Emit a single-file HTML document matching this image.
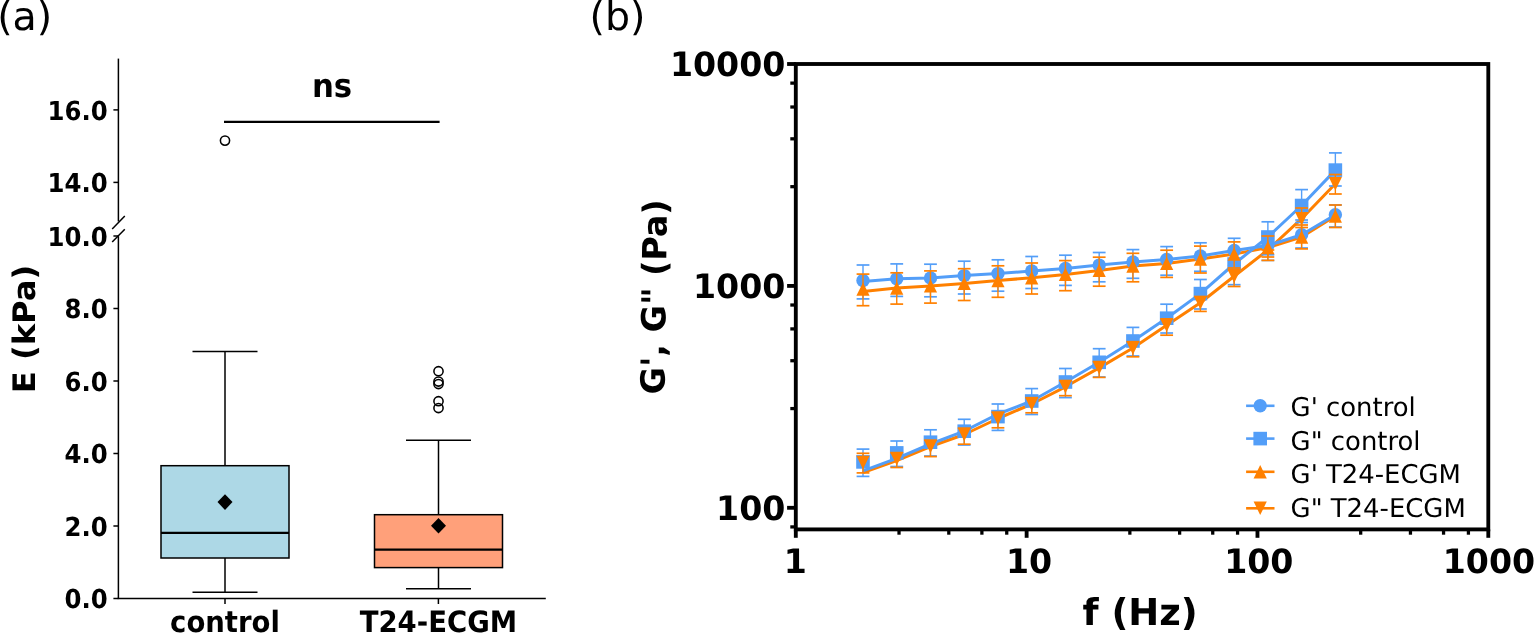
<!DOCTYPE html>
<html><head><meta charset="utf-8"><title>Figure</title>
<style>
html,body{margin:0;padding:0;background:#fff;}
body{width:1534px;height:633px;overflow:hidden;}
svg{display:block;}
.b{font-family:"DejaVu Sans","Liberation Sans",sans-serif;font-weight:bold;fill:#000;text-rendering:geometricPrecision;}
.r{font-family:"DejaVu Sans","Liberation Sans",sans-serif;font-weight:normal;fill:#000;text-rendering:geometricPrecision;}
</style></head><body>
<svg width="1534" height="633" viewBox="0 0 1534 633">
<rect width="1534" height="633" fill="#fff"/>
<line x1="118.4" y1="58.6" x2="118.4" y2="221.5" stroke="#000" stroke-width="1.5"/>
<line x1="118.4" y1="236.2" x2="118.4" y2="598.5" stroke="#000" stroke-width="1.5"/>
<line x1="117.65" y1="598.5" x2="545.8" y2="598.5" stroke="#000" stroke-width="1.5"/>
<line x1="112.2" y1="229" x2="124.8" y2="216" stroke="#000" stroke-width="1.5"/>
<line x1="112.2" y1="242.1" x2="124.8" y2="229.2" stroke="#000" stroke-width="1.5"/>
<line x1="113.4" y1="598.50" x2="118.4" y2="598.50" stroke="#000" stroke-width="1.5"/>
<text transform="translate(107.80,608.30) scale(1.0,1.072)" text-anchor="end" class="b" font-size="24.4">0.0</text>
<line x1="113.4" y1="526.00" x2="118.4" y2="526.00" stroke="#000" stroke-width="1.5"/>
<text transform="translate(107.80,535.80) scale(1.0,1.072)" text-anchor="end" class="b" font-size="24.4">2.0</text>
<line x1="113.4" y1="453.50" x2="118.4" y2="453.50" stroke="#000" stroke-width="1.5"/>
<text transform="translate(107.80,463.30) scale(1.0,1.072)" text-anchor="end" class="b" font-size="24.4">4.0</text>
<line x1="113.4" y1="381.00" x2="118.4" y2="381.00" stroke="#000" stroke-width="1.5"/>
<text transform="translate(107.80,390.80) scale(1.0,1.072)" text-anchor="end" class="b" font-size="24.4">6.0</text>
<line x1="113.4" y1="308.50" x2="118.4" y2="308.50" stroke="#000" stroke-width="1.5"/>
<text transform="translate(107.80,318.30) scale(1.0,1.072)" text-anchor="end" class="b" font-size="24.4">8.0</text>
<line x1="113.4" y1="236.00" x2="118.4" y2="236.00" stroke="#000" stroke-width="1.5"/>
<text transform="translate(107.80,245.80) scale(1.0,1.072)" text-anchor="end" class="b" font-size="24.4">10.0</text>
<line x1="113.4" y1="182.40" x2="118.4" y2="182.40" stroke="#000" stroke-width="1.5"/>
<text transform="translate(107.80,192.20) scale(1.0,1.072)" text-anchor="end" class="b" font-size="24.4">14.0</text>
<line x1="113.4" y1="109.90" x2="118.4" y2="109.90" stroke="#000" stroke-width="1.5"/>
<text transform="translate(107.80,119.70) scale(1.0,1.072)" text-anchor="end" class="b" font-size="24.4">16.0</text>
<line x1="225.0" y1="598.5" x2="225.0" y2="604.0" stroke="#000" stroke-width="1.5"/>
<text transform="translate(225.00,632.00) scale(1.0,1.069)" text-anchor="middle" class="b" font-size="27.5">control</text>
<line x1="438.4" y1="598.5" x2="438.4" y2="604.0" stroke="#000" stroke-width="1.5"/>
<text transform="translate(438.40,632.00) scale(1.0,1.069)" text-anchor="middle" class="b" font-size="27.5">T24-ECGM</text>
<line x1="225.0" y1="465.7" x2="225.0" y2="351.6" stroke="#000" stroke-width="1.5"/>
<line x1="225.0" y1="558.0" x2="225.0" y2="592.3" stroke="#000" stroke-width="1.5"/>
<line x1="192.5" y1="351.6" x2="257.5" y2="351.6" stroke="#000" stroke-width="1.5"/>
<line x1="192.5" y1="592.3" x2="257.5" y2="592.3" stroke="#000" stroke-width="1.5"/>
<rect x="161.0" y="465.7" width="128" height="92.30000000000001" fill="#ADD8E6" stroke="#000" stroke-width="1.5"/>
<line x1="161.0" y1="532.8" x2="289.0" y2="532.8" stroke="#000" stroke-width="2.3"/>
<polygon points="225.0,494.3 232.5,502.1 225.0,509.90000000000003 217.5,502.1" fill="#000"/>
<line x1="438.5" y1="514.7" x2="438.5" y2="440.3" stroke="#000" stroke-width="1.5"/>
<line x1="438.5" y1="567.6" x2="438.5" y2="588.8" stroke="#000" stroke-width="1.5"/>
<line x1="406.0" y1="440.3" x2="471.0" y2="440.3" stroke="#000" stroke-width="1.5"/>
<line x1="406.0" y1="588.8" x2="471.0" y2="588.8" stroke="#000" stroke-width="1.5"/>
<rect x="374.5" y="514.7" width="128" height="52.89999999999998" fill="#FFA07A" stroke="#000" stroke-width="1.5"/>
<line x1="374.5" y1="549.6" x2="502.5" y2="549.6" stroke="#000" stroke-width="2.3"/>
<polygon points="438.5,518.0 446.0,525.8 438.5,533.5999999999999 431.0,525.8" fill="#000"/>
<circle cx="225" cy="140.6" r="4.6" fill="none" stroke="#000" stroke-width="1.55"/>
<circle cx="438.5" cy="371.2" r="4.6" fill="none" stroke="#000" stroke-width="1.55"/>
<circle cx="438.5" cy="381.5" r="4.6" fill="none" stroke="#000" stroke-width="1.55"/>
<circle cx="438.5" cy="384.0" r="4.6" fill="none" stroke="#000" stroke-width="1.55"/>
<circle cx="438.5" cy="401.2" r="4.6" fill="none" stroke="#000" stroke-width="1.55"/>
<circle cx="438.5" cy="408.0" r="4.6" fill="none" stroke="#000" stroke-width="1.55"/>
<line x1="224.0" y1="121.85" x2="439.6" y2="121.85" stroke="#000" stroke-width="2.2"/>
<text transform="translate(332.00,97.40) scale(1.0,1.055)" text-anchor="middle" class="b" font-size="30.8">ns</text>
<text transform="translate(34.60,329.00) rotate(-90) scale(1.04,1.0)" text-anchor="middle" class="b" font-size="31.0">E (kPa)</text>
<text transform="translate(-2.80,30.00)" class="r" font-size="39.5">(a)</text>
<line x1="787.0999999999999" y1="507.80" x2="795.8" y2="507.80" stroke="#000" stroke-width="3.85"/>
<line x1="787.0999999999999" y1="285.90" x2="795.8" y2="285.90" stroke="#000" stroke-width="3.85"/>
<line x1="787.0999999999999" y1="64.00" x2="795.8" y2="64.00" stroke="#000" stroke-width="3.85"/>
<line x1="790.3" y1="526.92" x2="795.8" y2="526.92" stroke="#000" stroke-width="3.27"/>
<line x1="790.3" y1="408.58" x2="795.8" y2="408.58" stroke="#000" stroke-width="3.27"/>
<line x1="790.3" y1="360.73" x2="795.8" y2="360.73" stroke="#000" stroke-width="3.27"/>
<line x1="790.3" y1="328.91" x2="795.8" y2="328.91" stroke="#000" stroke-width="3.27"/>
<line x1="790.3" y1="305.02" x2="795.8" y2="305.02" stroke="#000" stroke-width="3.27"/>
<line x1="790.3" y1="186.68" x2="795.8" y2="186.68" stroke="#000" stroke-width="3.27"/>
<line x1="790.3" y1="138.83" x2="795.8" y2="138.83" stroke="#000" stroke-width="3.27"/>
<line x1="790.3" y1="107.01" x2="795.8" y2="107.01" stroke="#000" stroke-width="3.27"/>
<line x1="790.3" y1="83.12" x2="795.8" y2="83.12" stroke="#000" stroke-width="3.27"/>
<line x1="795.80" y1="529.4" x2="795.80" y2="537.8" stroke="#000" stroke-width="3.85"/>
<line x1="1026.63" y1="529.4" x2="1026.63" y2="537.8" stroke="#000" stroke-width="3.85"/>
<line x1="1257.47" y1="529.4" x2="1257.47" y2="537.8" stroke="#000" stroke-width="3.85"/>
<line x1="1488.30" y1="529.4" x2="1488.30" y2="537.8" stroke="#000" stroke-width="3.85"/>
<line x1="899.02" y1="529.4" x2="899.02" y2="534.6999999999999" stroke="#000" stroke-width="3.27"/>
<line x1="948.79" y1="529.4" x2="948.79" y2="534.6999999999999" stroke="#000" stroke-width="3.27"/>
<line x1="981.89" y1="529.4" x2="981.89" y2="534.6999999999999" stroke="#000" stroke-width="3.27"/>
<line x1="1006.74" y1="529.4" x2="1006.74" y2="534.6999999999999" stroke="#000" stroke-width="3.27"/>
<line x1="1129.85" y1="529.4" x2="1129.85" y2="534.6999999999999" stroke="#000" stroke-width="3.27"/>
<line x1="1179.62" y1="529.4" x2="1179.62" y2="534.6999999999999" stroke="#000" stroke-width="3.27"/>
<line x1="1212.73" y1="529.4" x2="1212.73" y2="534.6999999999999" stroke="#000" stroke-width="3.27"/>
<line x1="1237.57" y1="529.4" x2="1237.57" y2="534.6999999999999" stroke="#000" stroke-width="3.27"/>
<line x1="1360.69" y1="529.4" x2="1360.69" y2="534.6999999999999" stroke="#000" stroke-width="3.27"/>
<line x1="1410.45" y1="529.4" x2="1410.45" y2="534.6999999999999" stroke="#000" stroke-width="3.27"/>
<line x1="1443.56" y1="529.4" x2="1443.56" y2="534.6999999999999" stroke="#000" stroke-width="3.27"/>
<line x1="1468.41" y1="529.4" x2="1468.41" y2="534.6999999999999" stroke="#000" stroke-width="3.27"/>
<rect x="795.8" y="64.0" width="692.5" height="465.4" fill="none" stroke="#000" stroke-width="3.85"/>
<text transform="translate(785.40,520.00) scale(1.0,1.01)" text-anchor="end" class="b" font-size="33.2">100</text>
<text transform="translate(785.40,298.10) scale(1.0,1.01)" text-anchor="end" class="b" font-size="33.2">1000</text>
<text transform="translate(785.40,76.20) scale(1.0,1.01)" text-anchor="end" class="b" font-size="33.2">10000</text>
<text transform="translate(795.40,572.80) scale(1.0,1.01)" text-anchor="middle" class="b" font-size="33.2">1</text>
<text transform="translate(1029.03,572.80) scale(1.0,1.01)" text-anchor="middle" class="b" font-size="33.2">10</text>
<text transform="translate(1258.77,572.80) scale(1.0,1.01)" text-anchor="middle" class="b" font-size="33.2">100</text>
<text transform="translate(1488.90,572.80) scale(1.0,1.01)" text-anchor="middle" class="b" font-size="33.2">1000</text>
<text transform="translate(1140.10,624.60)" text-anchor="middle" class="b" font-size="37">f (Hz)</text>
<text transform="translate(665.70,296.90) rotate(-89.25)" text-anchor="middle" class="b" font-size="33.4">G', G&quot; (Pa)</text>
<text transform="translate(589.50,30.00)" class="r" font-size="39.5">(b)</text>
<polyline points="863.00,291.5 896.74,288.1 930.48,285.9 964.22,283.4 997.96,280.6 1031.70,277.7 1065.44,274.4 1099.18,270.4 1132.92,266 1166.66,263.4 1200.40,259 1234.14,254.1 1267.88,247.5 1301.62,237 1335.36,216" fill="none" stroke="#FF8000" stroke-width="3.0" stroke-linejoin="round"/>
<polyline points="863.00,472.5 896.74,460.6 930.48,446.5 964.22,434.5 997.96,418.5 1031.70,404 1065.44,386.8 1099.18,367.9 1132.92,348 1166.66,325.2 1200.40,302.8 1234.14,276.2 1267.88,250 1301.62,218.7 1335.36,183.8" fill="none" stroke="#FF8000" stroke-width="3.0" stroke-linejoin="round"/>
<polyline points="863.00,281.5 896.74,278.8 930.48,278.0 964.22,275.6 997.96,273.6 1031.70,270.9 1065.44,268.4 1099.18,265.1 1132.92,262.0 1166.66,259.5 1200.40,256.0 1234.14,250.5 1267.88,245.5 1301.62,234.7 1335.36,214.8" fill="none" stroke="#539EF8" stroke-width="3.0" stroke-linejoin="round"/>
<polyline points="863.00,470.8 896.74,458.4 930.48,444.0 964.22,431.2 997.96,414.0 1031.70,401 1065.44,382 1099.18,362.3 1132.92,341 1166.66,318.2 1200.40,293.6 1234.14,264 1267.88,237 1301.62,205.5 1335.36,170.1" fill="none" stroke="#539EF8" stroke-width="3.0" stroke-linejoin="round"/>
<line x1="863.00" y1="265.0" x2="863.00" y2="298.9" stroke="#539EF8" stroke-width="1.4"/>
<line x1="856.60" y1="265.0" x2="869.40" y2="265.0" stroke="#539EF8" stroke-width="1.7"/>
<line x1="856.60" y1="298.9" x2="869.40" y2="298.9" stroke="#539EF8" stroke-width="1.7"/>
<line x1="896.74" y1="263.9" x2="896.74" y2="296.4" stroke="#539EF8" stroke-width="1.4"/>
<line x1="890.34" y1="263.9" x2="903.14" y2="263.9" stroke="#539EF8" stroke-width="1.7"/>
<line x1="890.34" y1="296.4" x2="903.14" y2="296.4" stroke="#539EF8" stroke-width="1.7"/>
<line x1="930.48" y1="264.2" x2="930.48" y2="296.8" stroke="#539EF8" stroke-width="1.4"/>
<line x1="924.08" y1="264.2" x2="936.88" y2="264.2" stroke="#539EF8" stroke-width="1.7"/>
<line x1="924.08" y1="296.8" x2="936.88" y2="296.8" stroke="#539EF8" stroke-width="1.7"/>
<line x1="964.22" y1="261.2" x2="964.22" y2="294.0" stroke="#539EF8" stroke-width="1.4"/>
<line x1="957.82" y1="261.2" x2="970.62" y2="261.2" stroke="#539EF8" stroke-width="1.7"/>
<line x1="957.82" y1="294.0" x2="970.62" y2="294.0" stroke="#539EF8" stroke-width="1.7"/>
<line x1="997.96" y1="259.8" x2="997.96" y2="291.2" stroke="#539EF8" stroke-width="1.4"/>
<line x1="991.56" y1="259.8" x2="1004.36" y2="259.8" stroke="#539EF8" stroke-width="1.7"/>
<line x1="991.56" y1="291.2" x2="1004.36" y2="291.2" stroke="#539EF8" stroke-width="1.7"/>
<line x1="1031.70" y1="256.5" x2="1031.70" y2="288.5" stroke="#539EF8" stroke-width="1.4"/>
<line x1="1025.30" y1="256.5" x2="1038.10" y2="256.5" stroke="#539EF8" stroke-width="1.7"/>
<line x1="1025.30" y1="288.5" x2="1038.10" y2="288.5" stroke="#539EF8" stroke-width="1.7"/>
<line x1="1065.44" y1="255.2" x2="1065.44" y2="285.4" stroke="#539EF8" stroke-width="1.4"/>
<line x1="1059.04" y1="255.2" x2="1071.84" y2="255.2" stroke="#539EF8" stroke-width="1.7"/>
<line x1="1059.04" y1="285.4" x2="1071.84" y2="285.4" stroke="#539EF8" stroke-width="1.7"/>
<line x1="1099.18" y1="252.5" x2="1099.18" y2="281.8" stroke="#539EF8" stroke-width="1.4"/>
<line x1="1092.78" y1="252.5" x2="1105.58" y2="252.5" stroke="#539EF8" stroke-width="1.7"/>
<line x1="1092.78" y1="281.8" x2="1105.58" y2="281.8" stroke="#539EF8" stroke-width="1.7"/>
<line x1="1132.92" y1="249.6" x2="1132.92" y2="278.3" stroke="#539EF8" stroke-width="1.4"/>
<line x1="1126.52" y1="249.6" x2="1139.32" y2="249.6" stroke="#539EF8" stroke-width="1.7"/>
<line x1="1126.52" y1="278.3" x2="1139.32" y2="278.3" stroke="#539EF8" stroke-width="1.7"/>
<line x1="1166.66" y1="246.6" x2="1166.66" y2="275.2" stroke="#539EF8" stroke-width="1.4"/>
<line x1="1160.26" y1="246.6" x2="1173.06" y2="246.6" stroke="#539EF8" stroke-width="1.7"/>
<line x1="1160.26" y1="275.2" x2="1173.06" y2="275.2" stroke="#539EF8" stroke-width="1.7"/>
<line x1="1200.40" y1="242.8" x2="1200.40" y2="271.3" stroke="#539EF8" stroke-width="1.4"/>
<line x1="1194.00" y1="242.8" x2="1206.80" y2="242.8" stroke="#539EF8" stroke-width="1.7"/>
<line x1="1194.00" y1="271.3" x2="1206.80" y2="271.3" stroke="#539EF8" stroke-width="1.7"/>
<line x1="1234.14" y1="238.3" x2="1234.14" y2="265.5" stroke="#539EF8" stroke-width="1.4"/>
<line x1="1227.74" y1="238.3" x2="1240.54" y2="238.3" stroke="#539EF8" stroke-width="1.7"/>
<line x1="1227.74" y1="265.5" x2="1240.54" y2="265.5" stroke="#539EF8" stroke-width="1.7"/>
<line x1="1267.88" y1="233" x2="1267.88" y2="260.4" stroke="#539EF8" stroke-width="1.4"/>
<line x1="1261.48" y1="233" x2="1274.28" y2="233" stroke="#539EF8" stroke-width="1.7"/>
<line x1="1261.48" y1="260.4" x2="1274.28" y2="260.4" stroke="#539EF8" stroke-width="1.7"/>
<line x1="1301.62" y1="222.5" x2="1301.62" y2="248" stroke="#539EF8" stroke-width="1.4"/>
<line x1="1295.22" y1="222.5" x2="1308.02" y2="222.5" stroke="#539EF8" stroke-width="1.7"/>
<line x1="1295.22" y1="248" x2="1308.02" y2="248" stroke="#539EF8" stroke-width="1.7"/>
<line x1="1335.36" y1="205" x2="1335.36" y2="227" stroke="#539EF8" stroke-width="1.4"/>
<line x1="1328.96" y1="205" x2="1341.76" y2="205" stroke="#539EF8" stroke-width="1.7"/>
<line x1="1328.96" y1="227" x2="1341.76" y2="227" stroke="#539EF8" stroke-width="1.7"/>
<circle cx="863.00" cy="280.5" r="6.7" fill="#539EF8"/>
<circle cx="896.74" cy="278.8" r="6.7" fill="#539EF8"/>
<circle cx="930.48" cy="278.0" r="6.7" fill="#539EF8"/>
<circle cx="964.22" cy="275.6" r="6.7" fill="#539EF8"/>
<circle cx="997.96" cy="273.6" r="6.7" fill="#539EF8"/>
<circle cx="1031.70" cy="270.9" r="6.7" fill="#539EF8"/>
<circle cx="1065.44" cy="268.4" r="6.7" fill="#539EF8"/>
<circle cx="1099.18" cy="265.1" r="6.7" fill="#539EF8"/>
<circle cx="1132.92" cy="262.0" r="6.7" fill="#539EF8"/>
<circle cx="1166.66" cy="259.5" r="6.7" fill="#539EF8"/>
<circle cx="1200.40" cy="256.0" r="6.7" fill="#539EF8"/>
<circle cx="1234.14" cy="250.5" r="6.7" fill="#539EF8"/>
<circle cx="1267.88" cy="245.5" r="6.7" fill="#539EF8"/>
<circle cx="1301.62" cy="234.7" r="6.7" fill="#539EF8"/>
<circle cx="1335.36" cy="214.8" r="6.7" fill="#539EF8"/>
<line x1="863.00" y1="449.1" x2="863.00" y2="476.4" stroke="#539EF8" stroke-width="1.4"/>
<line x1="856.60" y1="449.1" x2="869.40" y2="449.1" stroke="#539EF8" stroke-width="1.7"/>
<line x1="856.60" y1="476.4" x2="869.40" y2="476.4" stroke="#539EF8" stroke-width="1.7"/>
<line x1="896.74" y1="441" x2="896.74" y2="466.5" stroke="#539EF8" stroke-width="1.4"/>
<line x1="890.34" y1="441" x2="903.14" y2="441" stroke="#539EF8" stroke-width="1.7"/>
<line x1="890.34" y1="466.5" x2="903.14" y2="466.5" stroke="#539EF8" stroke-width="1.7"/>
<line x1="930.48" y1="429.8" x2="930.48" y2="456" stroke="#539EF8" stroke-width="1.4"/>
<line x1="924.08" y1="429.8" x2="936.88" y2="429.8" stroke="#539EF8" stroke-width="1.7"/>
<line x1="924.08" y1="456" x2="936.88" y2="456" stroke="#539EF8" stroke-width="1.7"/>
<line x1="964.22" y1="419.3" x2="964.22" y2="445" stroke="#539EF8" stroke-width="1.4"/>
<line x1="957.82" y1="419.3" x2="970.62" y2="419.3" stroke="#539EF8" stroke-width="1.7"/>
<line x1="957.82" y1="445" x2="970.62" y2="445" stroke="#539EF8" stroke-width="1.7"/>
<line x1="997.96" y1="404" x2="997.96" y2="430.4" stroke="#539EF8" stroke-width="1.4"/>
<line x1="991.56" y1="404" x2="1004.36" y2="404" stroke="#539EF8" stroke-width="1.7"/>
<line x1="991.56" y1="430.4" x2="1004.36" y2="430.4" stroke="#539EF8" stroke-width="1.7"/>
<line x1="1031.70" y1="388.6" x2="1031.70" y2="414.5" stroke="#539EF8" stroke-width="1.4"/>
<line x1="1025.30" y1="388.6" x2="1038.10" y2="388.6" stroke="#539EF8" stroke-width="1.7"/>
<line x1="1025.30" y1="414.5" x2="1038.10" y2="414.5" stroke="#539EF8" stroke-width="1.7"/>
<line x1="1065.44" y1="368.5" x2="1065.44" y2="397.6" stroke="#539EF8" stroke-width="1.4"/>
<line x1="1059.04" y1="368.5" x2="1071.84" y2="368.5" stroke="#539EF8" stroke-width="1.7"/>
<line x1="1059.04" y1="397.6" x2="1071.84" y2="397.6" stroke="#539EF8" stroke-width="1.7"/>
<line x1="1099.18" y1="348.7" x2="1099.18" y2="377" stroke="#539EF8" stroke-width="1.4"/>
<line x1="1092.78" y1="348.7" x2="1105.58" y2="348.7" stroke="#539EF8" stroke-width="1.7"/>
<line x1="1092.78" y1="377" x2="1105.58" y2="377" stroke="#539EF8" stroke-width="1.7"/>
<line x1="1132.92" y1="327.4" x2="1132.92" y2="356" stroke="#539EF8" stroke-width="1.4"/>
<line x1="1126.52" y1="327.4" x2="1139.32" y2="327.4" stroke="#539EF8" stroke-width="1.7"/>
<line x1="1126.52" y1="356" x2="1139.32" y2="356" stroke="#539EF8" stroke-width="1.7"/>
<line x1="1166.66" y1="304.2" x2="1166.66" y2="333" stroke="#539EF8" stroke-width="1.4"/>
<line x1="1160.26" y1="304.2" x2="1173.06" y2="304.2" stroke="#539EF8" stroke-width="1.7"/>
<line x1="1160.26" y1="333" x2="1173.06" y2="333" stroke="#539EF8" stroke-width="1.7"/>
<line x1="1200.40" y1="279.5" x2="1200.40" y2="309" stroke="#539EF8" stroke-width="1.4"/>
<line x1="1194.00" y1="279.5" x2="1206.80" y2="279.5" stroke="#539EF8" stroke-width="1.7"/>
<line x1="1194.00" y1="309" x2="1206.80" y2="309" stroke="#539EF8" stroke-width="1.7"/>
<line x1="1234.14" y1="250" x2="1234.14" y2="284.7" stroke="#539EF8" stroke-width="1.4"/>
<line x1="1227.74" y1="250" x2="1240.54" y2="250" stroke="#539EF8" stroke-width="1.7"/>
<line x1="1227.74" y1="284.7" x2="1240.54" y2="284.7" stroke="#539EF8" stroke-width="1.7"/>
<line x1="1267.88" y1="221.8" x2="1267.88" y2="254.8" stroke="#539EF8" stroke-width="1.4"/>
<line x1="1261.48" y1="221.8" x2="1274.28" y2="221.8" stroke="#539EF8" stroke-width="1.7"/>
<line x1="1261.48" y1="254.8" x2="1274.28" y2="254.8" stroke="#539EF8" stroke-width="1.7"/>
<line x1="1301.62" y1="189.6" x2="1301.62" y2="220" stroke="#539EF8" stroke-width="1.4"/>
<line x1="1295.22" y1="189.6" x2="1308.02" y2="189.6" stroke="#539EF8" stroke-width="1.7"/>
<line x1="1295.22" y1="220" x2="1308.02" y2="220" stroke="#539EF8" stroke-width="1.7"/>
<line x1="1335.36" y1="152.9" x2="1335.36" y2="186" stroke="#539EF8" stroke-width="1.4"/>
<line x1="1328.96" y1="152.9" x2="1341.76" y2="152.9" stroke="#539EF8" stroke-width="1.7"/>
<line x1="1328.96" y1="186" x2="1341.76" y2="186" stroke="#539EF8" stroke-width="1.7"/>
<rect x="856.20" y="455.10" width="13.6" height="13.6" fill="#539EF8"/>
<rect x="889.94" y="446.10" width="13.6" height="13.6" fill="#539EF8"/>
<rect x="923.68" y="435.40" width="13.6" height="13.6" fill="#539EF8"/>
<rect x="957.42" y="424.40" width="13.6" height="13.6" fill="#539EF8"/>
<rect x="991.16" y="409.80" width="13.6" height="13.6" fill="#539EF8"/>
<rect x="1024.90" y="394.20" width="13.6" height="13.6" fill="#539EF8"/>
<rect x="1058.64" y="375.20" width="13.6" height="13.6" fill="#539EF8"/>
<rect x="1092.38" y="355.50" width="13.6" height="13.6" fill="#539EF8"/>
<rect x="1126.12" y="334.20" width="13.6" height="13.6" fill="#539EF8"/>
<rect x="1159.86" y="311.40" width="13.6" height="13.6" fill="#539EF8"/>
<rect x="1193.60" y="286.80" width="13.6" height="13.6" fill="#539EF8"/>
<rect x="1227.34" y="257.20" width="13.6" height="13.6" fill="#539EF8"/>
<rect x="1261.08" y="230.20" width="13.6" height="13.6" fill="#539EF8"/>
<rect x="1294.82" y="198.70" width="13.6" height="13.6" fill="#539EF8"/>
<rect x="1328.56" y="163.30" width="13.6" height="13.6" fill="#539EF8"/>
<line x1="863.00" y1="274.1" x2="863.00" y2="305.7" stroke="#FF8000" stroke-width="1.4"/>
<line x1="856.60" y1="274.1" x2="869.40" y2="274.1" stroke="#FF8000" stroke-width="1.7"/>
<line x1="856.60" y1="305.7" x2="869.40" y2="305.7" stroke="#FF8000" stroke-width="1.7"/>
<line x1="896.74" y1="272.8" x2="896.74" y2="304.1" stroke="#FF8000" stroke-width="1.4"/>
<line x1="890.34" y1="272.8" x2="903.14" y2="272.8" stroke="#FF8000" stroke-width="1.7"/>
<line x1="890.34" y1="304.1" x2="903.14" y2="304.1" stroke="#FF8000" stroke-width="1.7"/>
<line x1="930.48" y1="270.9" x2="930.48" y2="303.1" stroke="#FF8000" stroke-width="1.4"/>
<line x1="924.08" y1="270.9" x2="936.88" y2="270.9" stroke="#FF8000" stroke-width="1.7"/>
<line x1="924.08" y1="303.1" x2="936.88" y2="303.1" stroke="#FF8000" stroke-width="1.7"/>
<line x1="964.22" y1="268.7" x2="964.22" y2="300.5" stroke="#FF8000" stroke-width="1.4"/>
<line x1="957.82" y1="268.7" x2="970.62" y2="268.7" stroke="#FF8000" stroke-width="1.7"/>
<line x1="957.82" y1="300.5" x2="970.62" y2="300.5" stroke="#FF8000" stroke-width="1.7"/>
<line x1="997.96" y1="265.8" x2="997.96" y2="297.3" stroke="#FF8000" stroke-width="1.4"/>
<line x1="991.56" y1="265.8" x2="1004.36" y2="265.8" stroke="#FF8000" stroke-width="1.7"/>
<line x1="991.56" y1="297.3" x2="1004.36" y2="297.3" stroke="#FF8000" stroke-width="1.7"/>
<line x1="1031.70" y1="263.0" x2="1031.70" y2="294.0" stroke="#FF8000" stroke-width="1.4"/>
<line x1="1025.30" y1="263.0" x2="1038.10" y2="263.0" stroke="#FF8000" stroke-width="1.7"/>
<line x1="1025.30" y1="294.0" x2="1038.10" y2="294.0" stroke="#FF8000" stroke-width="1.7"/>
<line x1="1065.44" y1="260.6" x2="1065.44" y2="290.7" stroke="#FF8000" stroke-width="1.4"/>
<line x1="1059.04" y1="260.6" x2="1071.84" y2="260.6" stroke="#FF8000" stroke-width="1.7"/>
<line x1="1059.04" y1="290.7" x2="1071.84" y2="290.7" stroke="#FF8000" stroke-width="1.7"/>
<line x1="1099.18" y1="257.2" x2="1099.18" y2="286.2" stroke="#FF8000" stroke-width="1.4"/>
<line x1="1092.78" y1="257.2" x2="1105.58" y2="257.2" stroke="#FF8000" stroke-width="1.7"/>
<line x1="1092.78" y1="286.2" x2="1105.58" y2="286.2" stroke="#FF8000" stroke-width="1.7"/>
<line x1="1132.92" y1="253.3" x2="1132.92" y2="281.8" stroke="#FF8000" stroke-width="1.4"/>
<line x1="1126.52" y1="253.3" x2="1139.32" y2="253.3" stroke="#FF8000" stroke-width="1.7"/>
<line x1="1126.52" y1="281.8" x2="1139.32" y2="281.8" stroke="#FF8000" stroke-width="1.7"/>
<line x1="1166.66" y1="250.2" x2="1166.66" y2="277.4" stroke="#FF8000" stroke-width="1.4"/>
<line x1="1160.26" y1="250.2" x2="1173.06" y2="250.2" stroke="#FF8000" stroke-width="1.7"/>
<line x1="1160.26" y1="277.4" x2="1173.06" y2="277.4" stroke="#FF8000" stroke-width="1.7"/>
<line x1="1200.40" y1="246.1" x2="1200.40" y2="273" stroke="#FF8000" stroke-width="1.4"/>
<line x1="1194.00" y1="246.1" x2="1206.80" y2="246.1" stroke="#FF8000" stroke-width="1.7"/>
<line x1="1194.00" y1="273" x2="1206.80" y2="273" stroke="#FF8000" stroke-width="1.7"/>
<line x1="1234.14" y1="241.9" x2="1234.14" y2="268" stroke="#FF8000" stroke-width="1.4"/>
<line x1="1227.74" y1="241.9" x2="1240.54" y2="241.9" stroke="#FF8000" stroke-width="1.7"/>
<line x1="1227.74" y1="268" x2="1240.54" y2="268" stroke="#FF8000" stroke-width="1.7"/>
<line x1="1267.88" y1="236" x2="1267.88" y2="257" stroke="#FF8000" stroke-width="1.4"/>
<line x1="1261.48" y1="236" x2="1274.28" y2="236" stroke="#FF8000" stroke-width="1.7"/>
<line x1="1261.48" y1="257" x2="1274.28" y2="257" stroke="#FF8000" stroke-width="1.7"/>
<line x1="1301.62" y1="225" x2="1301.62" y2="248.9" stroke="#FF8000" stroke-width="1.4"/>
<line x1="1295.22" y1="225" x2="1308.02" y2="225" stroke="#FF8000" stroke-width="1.7"/>
<line x1="1295.22" y1="248.9" x2="1308.02" y2="248.9" stroke="#FF8000" stroke-width="1.7"/>
<line x1="1335.36" y1="205" x2="1335.36" y2="227.5" stroke="#FF8000" stroke-width="1.4"/>
<line x1="1328.96" y1="205" x2="1341.76" y2="205" stroke="#FF8000" stroke-width="1.7"/>
<line x1="1328.96" y1="227.5" x2="1341.76" y2="227.5" stroke="#FF8000" stroke-width="1.7"/>
<polygon points="863.00,282.40 869.60,295.80 856.40,295.80" fill="#FF8000"/>
<polygon points="896.74,281.40 903.34,294.80 890.14,294.80" fill="#FF8000"/>
<polygon points="930.48,279.20 937.08,292.60 923.88,292.60" fill="#FF8000"/>
<polygon points="964.22,276.70 970.82,290.10 957.62,290.10" fill="#FF8000"/>
<polygon points="997.96,273.90 1004.56,287.30 991.36,287.30" fill="#FF8000"/>
<polygon points="1031.70,271.00 1038.30,284.40 1025.10,284.40" fill="#FF8000"/>
<polygon points="1065.44,267.70 1072.04,281.10 1058.84,281.10" fill="#FF8000"/>
<polygon points="1099.18,263.70 1105.78,277.10 1092.58,277.10" fill="#FF8000"/>
<polygon points="1132.92,259.30 1139.52,272.70 1126.32,272.70" fill="#FF8000"/>
<polygon points="1166.66,256.70 1173.26,270.10 1160.06,270.10" fill="#FF8000"/>
<polygon points="1200.40,252.30 1207.00,265.70 1193.80,265.70" fill="#FF8000"/>
<polygon points="1234.14,247.40 1240.74,260.80 1227.54,260.80" fill="#FF8000"/>
<polygon points="1267.88,240.80 1274.48,254.20 1261.28,254.20" fill="#FF8000"/>
<polygon points="1301.62,230.30 1308.22,243.70 1295.02,243.70" fill="#FF8000"/>
<polygon points="1335.36,209.30 1341.96,222.70 1328.76,222.70" fill="#FF8000"/>
<line x1="863.00" y1="453.3" x2="863.00" y2="472.9" stroke="#FF8000" stroke-width="1.4"/>
<line x1="856.60" y1="453.3" x2="869.40" y2="453.3" stroke="#FF8000" stroke-width="1.7"/>
<line x1="856.60" y1="472.9" x2="869.40" y2="472.9" stroke="#FF8000" stroke-width="1.7"/>
<line x1="896.74" y1="452.59999999999997" x2="896.74" y2="467.5" stroke="#FF8000" stroke-width="1.4"/>
<line x1="890.34" y1="452.59999999999997" x2="903.14" y2="452.59999999999997" stroke="#FF8000" stroke-width="1.7"/>
<line x1="890.34" y1="467.5" x2="903.14" y2="467.5" stroke="#FF8000" stroke-width="1.7"/>
<line x1="930.48" y1="440.2" x2="930.48" y2="456.6" stroke="#FF8000" stroke-width="1.4"/>
<line x1="924.08" y1="440.2" x2="936.88" y2="440.2" stroke="#FF8000" stroke-width="1.7"/>
<line x1="924.08" y1="456.6" x2="936.88" y2="456.6" stroke="#FF8000" stroke-width="1.7"/>
<line x1="964.22" y1="428.2" x2="964.22" y2="444.2" stroke="#FF8000" stroke-width="1.4"/>
<line x1="957.82" y1="428.2" x2="970.62" y2="428.2" stroke="#FF8000" stroke-width="1.7"/>
<line x1="957.82" y1="444.2" x2="970.62" y2="444.2" stroke="#FF8000" stroke-width="1.7"/>
<line x1="997.96" y1="412.2" x2="997.96" y2="427.8" stroke="#FF8000" stroke-width="1.4"/>
<line x1="991.56" y1="412.2" x2="1004.36" y2="412.2" stroke="#FF8000" stroke-width="1.7"/>
<line x1="991.56" y1="427.8" x2="1004.36" y2="427.8" stroke="#FF8000" stroke-width="1.7"/>
<line x1="1031.70" y1="397.7" x2="1031.70" y2="412.8" stroke="#FF8000" stroke-width="1.4"/>
<line x1="1025.30" y1="397.7" x2="1038.10" y2="397.7" stroke="#FF8000" stroke-width="1.7"/>
<line x1="1025.30" y1="412.8" x2="1038.10" y2="412.8" stroke="#FF8000" stroke-width="1.7"/>
<line x1="1065.44" y1="380.5" x2="1065.44" y2="395.7" stroke="#FF8000" stroke-width="1.4"/>
<line x1="1059.04" y1="380.5" x2="1071.84" y2="380.5" stroke="#FF8000" stroke-width="1.7"/>
<line x1="1059.04" y1="395.7" x2="1071.84" y2="395.7" stroke="#FF8000" stroke-width="1.7"/>
<line x1="1099.18" y1="361.59999999999997" x2="1099.18" y2="377.4" stroke="#FF8000" stroke-width="1.4"/>
<line x1="1092.78" y1="361.59999999999997" x2="1105.58" y2="361.59999999999997" stroke="#FF8000" stroke-width="1.7"/>
<line x1="1092.78" y1="377.4" x2="1105.58" y2="377.4" stroke="#FF8000" stroke-width="1.7"/>
<line x1="1132.92" y1="341.7" x2="1132.92" y2="356.8" stroke="#FF8000" stroke-width="1.4"/>
<line x1="1126.52" y1="341.7" x2="1139.32" y2="341.7" stroke="#FF8000" stroke-width="1.7"/>
<line x1="1126.52" y1="356.8" x2="1139.32" y2="356.8" stroke="#FF8000" stroke-width="1.7"/>
<line x1="1166.66" y1="318.9" x2="1166.66" y2="335.2" stroke="#FF8000" stroke-width="1.4"/>
<line x1="1160.26" y1="318.9" x2="1173.06" y2="318.9" stroke="#FF8000" stroke-width="1.7"/>
<line x1="1160.26" y1="335.2" x2="1173.06" y2="335.2" stroke="#FF8000" stroke-width="1.7"/>
<line x1="1200.40" y1="296.5" x2="1200.40" y2="311.4" stroke="#FF8000" stroke-width="1.4"/>
<line x1="1194.00" y1="296.5" x2="1206.80" y2="296.5" stroke="#FF8000" stroke-width="1.7"/>
<line x1="1194.00" y1="311.4" x2="1206.80" y2="311.4" stroke="#FF8000" stroke-width="1.7"/>
<line x1="1234.14" y1="269.9" x2="1234.14" y2="286.5" stroke="#FF8000" stroke-width="1.4"/>
<line x1="1227.74" y1="269.9" x2="1240.54" y2="269.9" stroke="#FF8000" stroke-width="1.7"/>
<line x1="1227.74" y1="286.5" x2="1240.54" y2="286.5" stroke="#FF8000" stroke-width="1.7"/>
<line x1="1267.88" y1="250" x2="1267.88" y2="260.4" stroke="#FF8000" stroke-width="1.4"/>
<line x1="1261.48" y1="250" x2="1274.28" y2="250" stroke="#FF8000" stroke-width="1.7"/>
<line x1="1261.48" y1="260.4" x2="1274.28" y2="260.4" stroke="#FF8000" stroke-width="1.7"/>
<line x1="1301.62" y1="208" x2="1301.62" y2="227.5" stroke="#FF8000" stroke-width="1.4"/>
<line x1="1295.22" y1="208" x2="1308.02" y2="208" stroke="#FF8000" stroke-width="1.7"/>
<line x1="1295.22" y1="227.5" x2="1308.02" y2="227.5" stroke="#FF8000" stroke-width="1.7"/>
<line x1="1335.36" y1="174.5" x2="1335.36" y2="194" stroke="#FF8000" stroke-width="1.4"/>
<line x1="1328.96" y1="174.5" x2="1341.76" y2="174.5" stroke="#FF8000" stroke-width="1.7"/>
<line x1="1328.96" y1="194" x2="1341.76" y2="194" stroke="#FF8000" stroke-width="1.7"/>
<polygon points="863.00,469.20 869.60,455.80 856.40,455.80" fill="#FF8000"/>
<polygon points="896.74,465.60 903.34,452.20 890.14,452.20" fill="#FF8000"/>
<polygon points="930.48,453.20 937.08,439.80 923.88,439.80" fill="#FF8000"/>
<polygon points="964.22,441.20 970.82,427.80 957.62,427.80" fill="#FF8000"/>
<polygon points="997.96,425.20 1004.56,411.80 991.36,411.80" fill="#FF8000"/>
<polygon points="1031.70,410.70 1038.30,397.30 1025.10,397.30" fill="#FF8000"/>
<polygon points="1065.44,393.50 1072.04,380.10 1058.84,380.10" fill="#FF8000"/>
<polygon points="1099.18,374.60 1105.78,361.20 1092.58,361.20" fill="#FF8000"/>
<polygon points="1132.92,354.70 1139.52,341.30 1126.32,341.30" fill="#FF8000"/>
<polygon points="1166.66,331.90 1173.26,318.50 1160.06,318.50" fill="#FF8000"/>
<polygon points="1200.40,309.50 1207.00,296.10 1193.80,296.10" fill="#FF8000"/>
<polygon points="1234.14,282.90 1240.74,269.50 1227.54,269.50" fill="#FF8000"/>
<polygon points="1301.62,225.40 1308.22,212.00 1295.02,212.00" fill="#FF8000"/>
<polygon points="1335.36,190.50 1341.96,177.10 1328.76,177.10" fill="#FF8000"/>
<line x1="1246.1" y1="405.8" x2="1274.5" y2="405.8" stroke="#539EF8" stroke-width="2.6"/>
<circle cx="1260.20" cy="405.8" r="6.7" fill="#539EF8"/>
<text transform="translate(1290.60,415.90)" class="r" font-size="25.9">G' control</text>
<line x1="1246.1" y1="438.6" x2="1274.5" y2="438.6" stroke="#539EF8" stroke-width="2.6"/>
<rect x="1253.40" y="431.80" width="13.6" height="13.6" fill="#539EF8"/>
<text transform="translate(1290.60,449.60)" class="r" font-size="25.9">G&quot; control</text>
<line x1="1246.1" y1="471.8" x2="1274.5" y2="471.8" stroke="#FF8000" stroke-width="2.6"/>
<polygon points="1260.20,465.10 1266.80,478.50 1253.60,478.50" fill="#FF8000"/>
<text transform="translate(1290.60,483.10)" class="r" font-size="25.9">G' T24-ECGM</text>
<line x1="1246.1" y1="508.3" x2="1274.5" y2="508.3" stroke="#FF8000" stroke-width="2.6"/>
<polygon points="1260.20,515.00 1266.80,501.60 1253.60,501.60" fill="#FF8000"/>
<text transform="translate(1290.60,516.80)" class="r" font-size="25.9">G&quot; T24-ECGM</text>
</svg>
</body></html>
